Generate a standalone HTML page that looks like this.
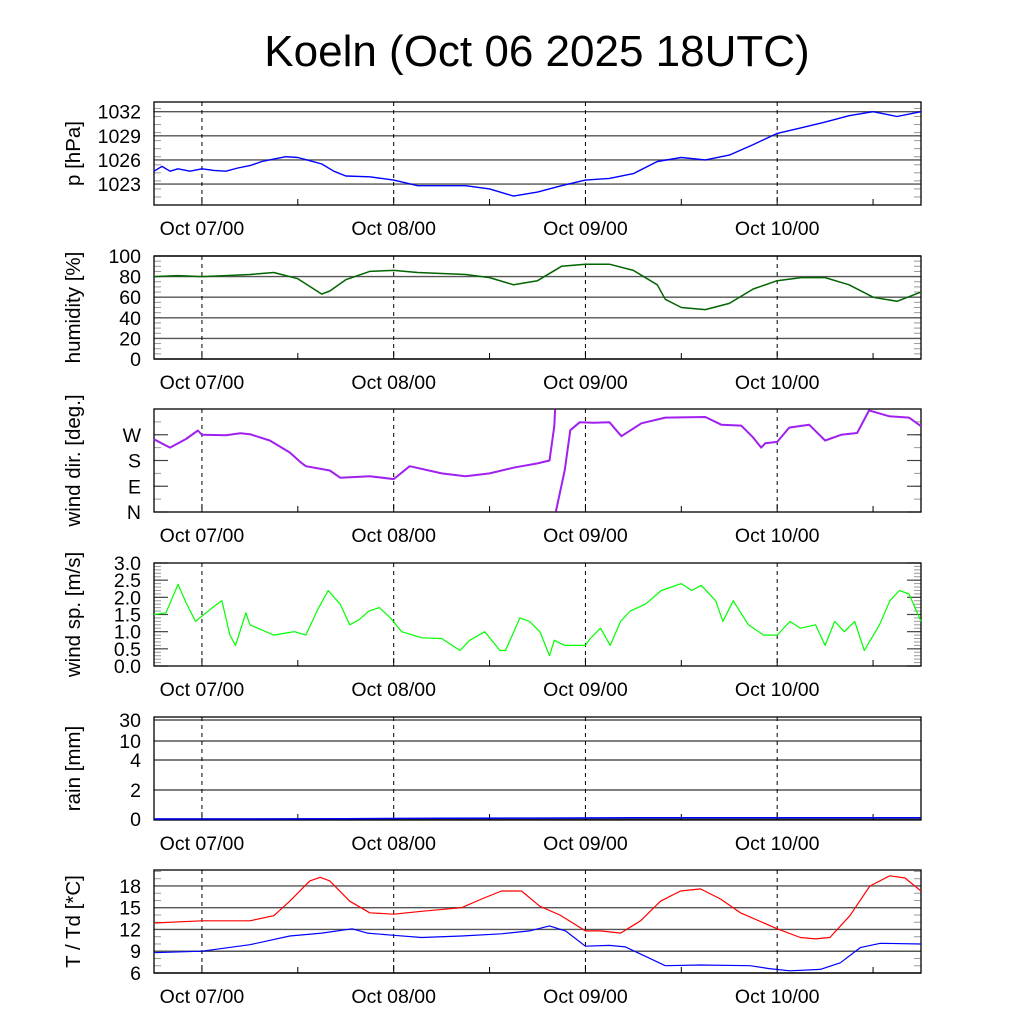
<!DOCTYPE html>
<html><head><meta charset="utf-8"><style>
body{margin:0;background:#fff}
svg{display:block}
text{font-family:"Liberation Sans",sans-serif;fill:#000}
</style></head><body>
<svg id="c" width="1024" height="1024" viewBox="0 0 1024 1024">
<text x="537" y="66" font-size="44" text-anchor="middle">Koeln (Oct 06 2025 18UTC)</text>
</svg>
<script>
// time in hours since Oct 06 18UTC
const dayLabels = ["Oct 07/00","Oct 08/00","Oct 09/00","Oct 10/00"];
const dayHours = [6,30,54,78];
const halfDayHours = [18,42,66,90];

const pHours = [0,1,2,3,4.5,6,7.5,9,10.5,12,13.5,15,16.5,18,19.5,21,22.5,24,27,30,33,36,39,42,45,48,51,54,57,60,63,66,69,72,75,78,81,84,87,90,93,96];
const pValues = [1024.6,1025.2,1024.6,1024.9,1024.6,1024.9,1024.7,1024.6,1025.0,1025.3,1025.8,1026.1,1026.4,1026.3,1025.9,1025.5,1024.6,1024.0,1023.9,1023.5,1022.8,1022.8,1022.8,1022.4,1021.5,1022.0,1022.8,1023.5,1023.7,1024.3,1025.8,1026.3,1026.0,1026.6,1027.9,1029.3,1030.0,1030.7,1031.5,1032.0,1031.4,1032.0];
const pTicks = [1023,1026,1029,1032];

const humHours = [0,3,6,9,12,15,18,20,21,22,24,27,30,33,36,39,42,45,48,51,54,57,60,63,64,66,69,72,75,78,81,84,87,90,93,96];
const humValues = [80,81,80,81,82,84,78,68,63,66,77,85,86,84,83,82,79,72,76,90,92,92,86,72,58,50,48,54,68,76,79,79,72,60,56,65];
const humTicks = [0,20,40,60,80,100];

const wdHours = [0,2,4,5.5,6,9,10.8,12,14.5,17,18.3,19,22,23.3,27,30,32,36,39,42,45,48,49.5,50.1,50.2,50.3,51.4,52.1,53.3,55,57,58.5,61,64,69,71,73.5,75,76,76.5,78,79.5,82,84,86,88,89.5,92,94.5,96];
const wdValues = [254,225,255,285,270,268,275,272,250,208,175,160,145,120,125,115,160,135,125,135,155,170,180,300,359,2,145,286,314,312,314,265,310,330,332,305,302,260,225,240,245,295,305,250,270,276,355,335,330,300];
const wdTicks = [0,90,180,270];
const wdTickLabels = ["N","E","S","W"];

const wsHours = [0,1.5,3,4,5.2,6,7.6,8.5,9.5,10.2,11.5,12,13.5,15,17,17.6,19,20.5,21.8,23.3,24.5,25.7,26.9,28.2,29.6,31,33.5,36,38.3,39.5,41.4,43.3,44,45.8,47,48.3,49.5,50.1,51.4,54,54.6,55.9,57.1,58.4,59.6,61.5,63.5,66,67.3,68.5,70.3,71.2,72.5,74.4,76.3,78,79.6,80.9,82.8,84,85.2,86.4,87.7,88.9,90.8,92.1,93.3,94.5,96];
const wsValues = [1.5,1.55,2.38,1.85,1.3,1.45,1.75,1.9,0.9,0.6,1.55,1.2,1.05,0.9,0.98,1.0,0.9,1.65,2.2,1.8,1.2,1.35,1.6,1.7,1.4,1.0,0.82,0.8,0.45,0.75,1.0,0.45,0.45,1.4,1.3,1.0,0.3,0.75,0.6,0.6,0.8,1.1,0.6,1.3,1.6,1.8,2.2,2.4,2.2,2.35,1.9,1.3,1.9,1.2,0.9,0.9,1.3,1.1,1.2,0.6,1.3,1.0,1.3,0.45,1.2,1.9,2.2,2.1,1.3];
const wsTicks = [0,0.5,1.0,1.5,2.0,2.5,3.0];

const rainHours = [0,12,24,36,48,60,72,84,96];
const rainValues = [0,0,0.02,0.05,0.06,0.08,0.08,0.09,0.09];
const rainTicks = [0,2,4,10,30];

const tHours = [0,6,12,15,17,19.5,20.8,22,24.5,27,30,33.5,38.5,41,43.5,46,48.3,50.8,54,55.9,58.4,60.9,63.4,65.9,68.4,70.9,73.4,78,80.9,82.8,84.6,87.1,89.6,92.1,94,96];
const tValues = [12.9,13.2,13.2,13.9,15.9,18.7,19.2,18.7,15.9,14.3,14.1,14.5,15.0,16.2,17.3,17.3,15.2,14.0,11.8,11.8,11.5,13.2,15.9,17.3,17.6,16.2,14.3,12.1,10.9,10.7,10.9,13.9,18.0,19.4,19.1,17.3];
const tdHours = [0,6,12,17,21,24.8,26.7,30,33.5,38.5,43.5,47,49.5,51.5,54,57,59,61.5,64,68.4,74.6,77,79.6,83.4,85.9,88.4,90.9,96];
const tdValues = [8.8,9.0,9.9,11.1,11.5,12.1,11.5,11.2,10.9,11.1,11.4,11.8,12.5,11.8,9.7,9.8,9.6,8.3,7.0,7.1,7.0,6.6,6.3,6.5,7.4,9.5,10.1,10.0];
const tTicks = [6,9,12,15,18];

const svg = document.getElementById('c');
const NS = 'http://www.w3.org/2000/svg';
const X0 = 154, X1 = 921;
function xs(h){ return X0 + h*(X1-X0)/96; }
function mk(tag, attrs, parent){
  const e = document.createElementNS(NS, tag);
  for (const k in attrs) e.setAttribute(k, attrs[k]);
  (parent||svg).appendChild(e);
  return e;
}
const TOPS = [102,256,409,563,717,870], H = 103;

function panel(i, name, label, ymin, ymax, ticks, tickLabels, grid, minorStep, yfn){
  const top = TOPS[i], bot = top + H;
  const g = mk('g', {});
  
  
  const ys = yfn || (v => bot - (v - ymin) * H / (ymax - ymin));
  if (minorStep){
    for (let v = ymin; v <= ymax + 1e-9; v += minorStep){
      const y = ys(v);
      mk('line', {x1:X0, x2:X0+7, y1:y, y2:y, stroke:'#999', 'stroke-width':1}, g);
      mk('line', {x1:X1-7, x2:X1, y1:y, y2:y, stroke:'#999', 'stroke-width':1}, g);
    }
  }
  ticks.forEach((v, k) => {
    const y = ys(v);
    if (grid) {
      const gl = mk('line', {x1:X0, x2:X1, y1:y, y2:y, stroke:'#555', 'stroke-width':1.4}, g);
      
      
    } else {
      mk('line', {x1:X0, x2:X0+14, y1:y, y2:y, stroke:'#444', 'stroke-width':1.2}, g);
      mk('line', {x1:X1-14, x2:X1, y1:y, y2:y, stroke:'#444', 'stroke-width':1.2}, g);
    }
    const t = mk('text', {x:X0-13, y:y+7, 'font-size':19.5, 'text-anchor':'end'}, g);
    t.textContent = tickLabels ? tickLabels[k] : String(v);
    
    
  });
  dayHours.forEach((h, k) => {
    const x = xs(h);
    mk('line', {x1:x, x2:x, y1:top, y2:bot, stroke:'#000', 'stroke-width':1, 'stroke-dasharray':'4,4'}, g);
    mk('line', {x1:x, x2:x, y1:bot-8, y2:bot, stroke:'#000', 'stroke-width':1}, g);
    const t = mk('text', {x:x, y:bot+30, 'font-size':19.5, 'text-anchor':'middle'}, g);
    t.textContent = dayLabels[k];
    
    
  });
  halfDayHours.forEach(h => {
    const x = xs(h);
    mk('line', {x1:x, x2:x, y1:bot-6, y2:bot, stroke:'#000', 'stroke-width':1}, g);
  });
  const f = mk('rect', {x:X0, y:top, width:X1-X0, height:H, fill:'none', stroke:'#000', 'stroke-width':1.3}, g);
  
  
  const cy = top + H/2;
  const yl = mk('text', {x:0, y:0, 'font-size':20.5, 'text-anchor':'middle', transform:`translate(80,${cy}) rotate(-90)`}, g);
  yl.textContent = label;
  
  
  return ys;
}
function series(name, hours, vals, ys, color, width, wrap){
  let segs = [[]];
  for (let k = 0; k < hours.length; k++){
    if (wrap && k > 0 && Math.abs(vals[k] - vals[k-1]) > 180) segs.push([]);
    segs[segs.length-1].push(xs(hours[k]).toFixed(1) + ',' + ys(vals[k]).toFixed(1));
  }
  segs.forEach(s => {
    const p = mk('polyline', {points:s.join(' '), fill:'none', stroke:color, 'stroke-width':width, 'stroke-linejoin':'round'});
    
    
  });
}
const ysP = panel(0, 'pressure', 'p [hPa]', 1020.4, 1033.2, pTicks, null, true, 1);
series('pressure', pHours, pValues, ysP, '#0000ff', 1.4);
const ysH = panel(1, 'humidity', 'humidity [%]', 0, 100, humTicks, null, true, 5);
series('humidity', humHours, humValues, ysH, '#006400', 1.5);
const ysW = panel(2, 'wind-direction', 'wind dir. [deg.]', 0, 360, wdTicks, wdTickLabels, false, 45);
series('wind-direction', wdHours, wdValues, ysW, '#a020f0', 2, true);
const ysS = panel(3, 'wind-speed', 'wind sp. [m/s]', 0, 3, wsTicks, wsTicks.map(v => v.toFixed(1)), false, 0.1);
series('wind-speed', wsHours, wsValues, ysS, '#00ff00', 1.2);
const rainY = [819,790,760,741,720];
const ysR = panel(4, 'rain', 'rain [mm]', 0, 30, rainTicks, null, true, 0, v => {
  for (let k = 0; k < rainTicks.length-1; k++){
    if (v <= rainTicks[k+1]) return rainY[k] + (v - rainTicks[k])/(rainTicks[k+1]-rainTicks[k])*(rainY[k+1]-rainY[k]);
  }
  return rainY[rainY.length-1];
});
series('rain', rainHours, rainValues, ysR, '#0000ff', 1.5);
const ysT = panel(5, 'temperature', 'T / Td [*C]', 6, 20.2, tTicks, null, true, 1);
series('temperature', tHours, tValues, ysT, '#ff0000', 1.2);
series('dewpoint', tdHours, tdValues, ysT, '#0000ff', 1.2);
</script>
</body></html>
